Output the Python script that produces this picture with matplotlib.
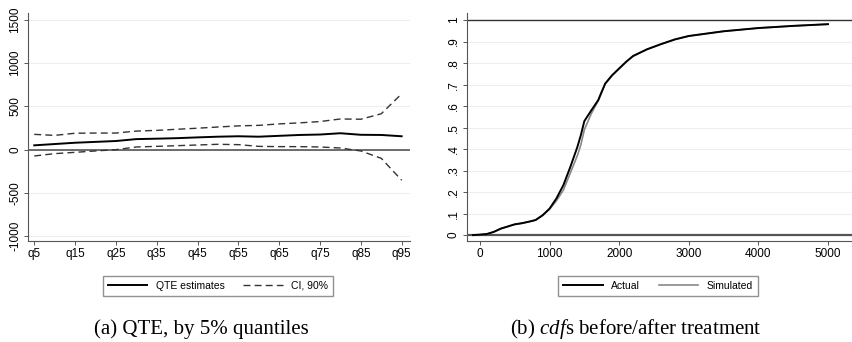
import matplotlib
matplotlib.use('Agg')
import matplotlib.pyplot as plt

plt.rcParams['font.family'] = ['Liberation Sans', 'DejaVu Sans']
plt.rcParams['axes.unicode_minus'] = False
plt.rcParams['mathtext.fontset'] = 'custom'
plt.rcParams['mathtext.rm'] = 'Liberation Serif'
plt.rcParams['mathtext.it'] = 'Liberation Serif:italic'

# panel (a): quantile treatment effects
quantiles = [5, 10, 15, 20, 25, 30, 35, 40, 45, 50, 55, 60, 65, 70, 75, 80, 85, 90, 95]
qte = [50, 65, 80, 90, 100, 122, 127, 133, 142, 150, 155, 150, 160, 170, 175, 190, 172, 170, 155]
ci_upper = [177, 165, 190, 192, 192, 215, 223, 236, 248, 262, 275, 281, 298, 310, 325, 355, 352, 415, 646]
ci_lower = [-73, -46, -31, -15, 0, 31, 38, 46, 54, 62, 58, 38, 35, 35, 31, 19, -15, -100, -354]
q_ticks = [5, 15, 25, 35, 45, 55, 65, 75, 85, 95]
q_labels = ['q5', 'q15', 'q25', 'q35', 'q45', 'q55', 'q65', 'q75', 'q85', 'q95']

# panel (b): cdfs
x_actual = [-100, 0, 100, 200, 300, 400, 500, 600, 700, 800, 900, 1000, 1100, 1200, 1300,
            1400, 1450, 1500, 1600, 1700, 1750, 1800, 1900, 2000, 2100, 2200, 2400, 2600,
            2800, 3000, 3500, 4000, 4500, 5000]
cdf_actual = [0, 0.002, 0.005, 0.015, 0.03, 0.04, 0.05, 0.055, 0.062, 0.07, 0.092, 0.123,
              0.171, 0.233, 0.318, 0.41, 0.465, 0.53, 0.58, 0.628, 0.667, 0.705, 0.744,
              0.775, 0.806, 0.833, 0.864, 0.888, 0.91, 0.926, 0.948, 0.963, 0.973, 0.981]
x_sim = [-100, 0, 100, 200, 300, 400, 500, 600, 700, 800, 900, 1000, 1100, 1200, 1300,
         1400, 1450, 1500, 1600, 1700, 1750, 1800, 1900, 2000, 2100, 2200, 2400, 2600,
         2800, 3000, 3500, 4000, 4500, 5000]
cdf_sim = [0, 0.002, 0.005, 0.015, 0.03, 0.04, 0.05, 0.055, 0.062, 0.07, 0.092, 0.12,
           0.16, 0.21, 0.29, 0.37, 0.42, 0.49, 0.565, 0.625, 0.665, 0.703, 0.742,
           0.774, 0.805, 0.832, 0.864, 0.888, 0.91, 0.926, 0.948, 0.963, 0.973, 0.981]
cdf_ticks = [0, 0.1, 0.2, 0.3, 0.4, 0.5, 0.6, 0.7, 0.8, 0.9, 1]
cdf_labels = ['0', '.1', '.2', '.3', '.4', '.5', '.6', '.7', '.8', '.9', '1']

fig = plt.figure(figsize=(8.52, 3.42), dpi=100)

def style(ax):
    for s in ['top', 'right']:
        ax.spines[s].set_visible(False)
    for s in ['left', 'bottom']:
        ax.spines[s].set_color('#555555')
        ax.spines[s].set_linewidth(0.8)
    ax.tick_params(length=3, width=0.7, color='#555555', labelsize=8.5, pad=2)
    ax.yaxis.grid(True, color='#eeeeee', linewidth=0.8)
    ax.set_axisbelow(True)
    for lab in ax.get_yticklabels():
        lab.set_rotation(90)
        lab.set_va('center')

leg_kw = dict(loc='center', ncol=2, fontsize=7.5, frameon=True, fancybox=False,
              edgecolor='#777777', handlelength=3.8, columnspacing=1.8,
              handletextpad=0.8, borderpad=0.5)

ax1 = fig.add_axes([0.033, 0.295, 0.448, 0.667])
ax1.axhline(0, color='#555555', linewidth=1.2)
ax1.plot(quantiles, qte, color='black', linewidth=1.4, label='QTE estimates')
ax1.plot(quantiles, ci_upper, color='#333333', linewidth=1.0, linestyle=(0, (5, 3)), label='CI, 90%')
ax1.plot(quantiles, ci_lower, color='#333333', linewidth=1.0, linestyle=(0, (5, 3)))
ax1.set_xlim(3.5, 97)
ax1.set_ylim(-1058, 1581)
ax1.set_xticks(q_ticks)
ax1.set_xticklabels(q_labels)
ax1.set_yticks([-1000, -500, 0, 500, 1000, 1500])
style(ax1)
fig.legend(*ax1.get_legend_handles_labels(), bbox_to_anchor=(218 / 852, 0.164), **leg_kw)

ax2 = fig.add_axes([0.548, 0.295, 0.452, 0.667])
ax2.axhline(0, color='#555555', linewidth=1.6)
ax2.axhline(1, color='#333333', linewidth=1.0)
ax2.plot(x_sim, cdf_sim, color='#888888', linewidth=1.2, label='Simulated')
ax2.plot(x_actual, cdf_actual, color='black', linewidth=1.4, label='Actual')
ax2.set_xlim(-187, 5345)
ax2.set_ylim(-0.028, 1.033)
ax2.set_xticks([0, 1000, 2000, 3000, 4000, 5000])
ax2.set_yticks(cdf_ticks)
ax2.set_yticklabels(cdf_labels)
style(ax2)
h, l = ax2.get_legend_handles_labels()
fig.legend(h[::-1], l[::-1], bbox_to_anchor=(658 / 852, 0.164), **leg_kw)

fig.text(201 / 852, 0.038, '(a) QTE, by 5% quantiles', family='Liberation Serif',
         fontsize=15, ha='center', va='center')
fig.text(636 / 852, 0.038, r'(b) $\mathit{cdf}$s before/after treatment', family='Liberation Serif',
         fontsize=15, ha='center', va='center')

fig.savefig('out.png', dpi=100)
